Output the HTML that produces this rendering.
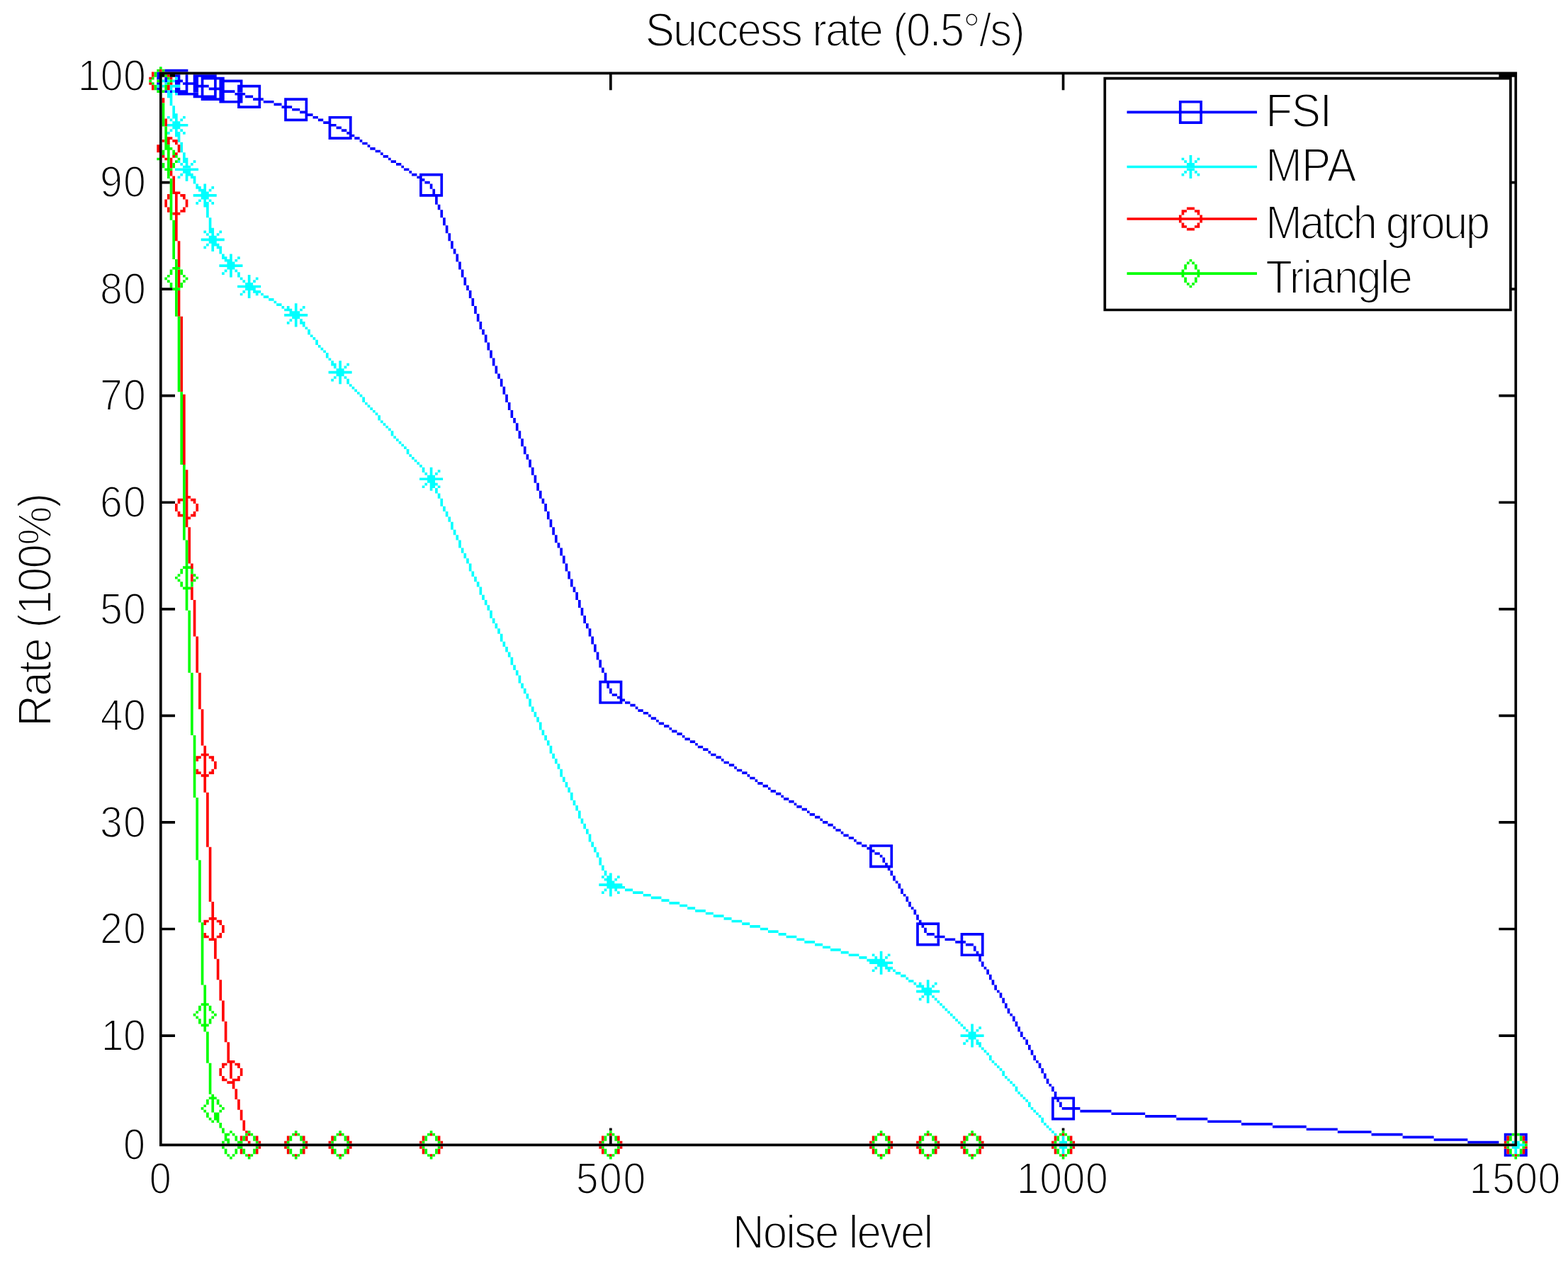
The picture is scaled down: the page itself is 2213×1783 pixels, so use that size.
<!DOCTYPE html>
<html lang="en">
<head>
<meta charset="utf-8">
<title>Success rate (0.5°/s)</title>
<style>
html,body{margin:0;padding:0;background:#fff;}
body{width:2213px;height:1783px;overflow:hidden;}
svg{display:block;}
text{white-space:pre;}
</style>
</head>
<body>
<svg xmlns="http://www.w3.org/2000/svg" width="2213" height="1783" viewBox="0 0 2213 1783">
<rect width="2213" height="1783" fill="#fff"/>
<path class="fsi" fill="#0000ff" d="M221.33 101.5h3.67v11.02h-3.67zM221.33 116.19h3.67v3.67h-3.67zM221.33 123.53h3.67v3.67h-3.67zM232.34 108.84h3.67v7.34h-3.67zM232.34 127.21h3.67v3.67h-3.67zM232.34 97.83h33.04v3.67h-33.04zM239.68 127.21h3.67v3.67h-3.67zM247.02 105.17h7.34v3.67h-7.34zM247.02 116.19h7.34v3.67h-7.34zM247.02 123.53h7.34v3.67h-7.34zM247.02 112.52h11.01v3.67h-11.01zM247.02 127.21h18.35v3.67h-18.35zM250.69 108.84h3.67v3.67h-3.67zM250.69 130.88h29.37v3.67h-29.37zM258.04 116.19h22.02v3.67h-22.02zM261.71 105.17h3.67v11.02h-3.67zM261.71 119.86h3.67v7.34h-3.67zM272.72 108.84h7.34v7.34h-7.34zM272.72 123.53h7.34v7.34h-7.34zM272.72 119.86h22.02v3.67h-22.02zM272.72 105.17h33.04v3.67h-33.04zM272.72 134.55h33.04v3.67h-33.04zM283.73 112.52h3.67v7.34h-3.67zM283.73 123.53h3.67v11.02h-3.67zM283.73 108.84h33.04v3.67h-33.04zM283.73 138.22h33.04v3.67h-33.04zM294.74 123.53h22.02v3.67h-22.02zM302.08 112.52h3.67v11.02h-3.67zM302.08 127.21h3.67v7.34h-3.67zM309.43 116.19h7.34v7.34h-7.34zM309.43 130.88h7.34v7.34h-7.34zM309.43 127.21h22.02v3.67h-22.02zM309.43 112.52h33.04v3.67h-33.04zM309.43 141.9h33.04v3.67h-33.04zM331.45 130.88h14.68v3.67h-14.68zM335.12 145.57h3.67v3.67h-3.67zM335.12 123.53h7.34v7.34h-7.34zM335.12 134.55h7.34v7.34h-7.34zM335.12 119.86h33.04v3.67h-33.04zM335.12 149.24h33.04v3.67h-33.04zM338.79 116.19h3.67v3.67h-3.67zM346.13 134.55h11.01v3.67h-11.01zM357.15 138.22h14.68v3.67h-14.68zM364.49 123.53h3.67v14.69h-3.67zM364.49 141.9h3.67v7.34h-3.67zM371.83 141.9h14.68v3.67h-14.68zM386.51 145.57h11.01v3.67h-11.01zM397.52 149.24h14.68v3.67h-14.68zM401.19 141.9h3.67v7.34h-3.67zM401.19 152.91h3.67v14.69h-3.67zM401.19 138.22h33.04v3.67h-33.04zM401.19 167.6h33.04v3.67h-33.04zM412.21 152.91h11.01v3.67h-11.01zM423.22 156.58h11.01v3.67h-11.01zM430.56 141.9h3.67v14.69h-3.67zM430.56 163.93h3.67v3.67h-3.67zM430.56 160.26h11.01v3.67h-11.01zM441.57 163.93h7.34v3.67h-7.34zM448.91 167.6h7.34v3.67h-7.34zM456.25 171.27h11.01v3.67h-11.01zM463.6 167.6h3.67v3.67h-3.67zM463.6 178.62h3.67v14.69h-3.67zM463.6 174.95h11.01v3.67h-11.01zM463.6 163.93h33.04v3.67h-33.04zM463.6 193.31h33.04v3.67h-33.04zM474.61 178.62h7.34v3.67h-7.34zM481.95 182.29h7.34v3.67h-7.34zM489.29 185.96h7.34v3.67h-7.34zM492.96 167.6h3.67v18.36h-3.67zM492.96 189.64h7.34v3.67h-7.34zM500.3 193.31h7.34v3.67h-7.34zM507.64 196.98h3.67v3.67h-3.67zM511.31 200.65h7.34v3.67h-7.34zM518.66 204.32h3.67v3.67h-3.67zM522.33 208h7.34v3.67h-7.34zM529.67 211.67h7.34v3.67h-7.34zM537.01 215.34h3.67v3.67h-3.67zM540.68 219.01h7.34v3.67h-7.34zM548.02 222.69h3.67v3.67h-3.67zM551.69 226.36h7.34v3.67h-7.34zM559.03 230.03h7.34v3.67h-7.34zM566.38 233.7h3.67v3.67h-3.67zM570.05 237.38h7.34v3.67h-7.34zM577.39 241.05h3.67v3.67h-3.67zM581.06 244.72h7.34v3.67h-7.34zM588.4 248.39h7.34v3.67h-7.34zM592.07 255.74h3.67v18.36h-3.67zM592.07 252.06h7.34v3.67h-7.34zM592.07 244.72h33.04v3.67h-33.04zM592.07 274.1h33.04v3.67h-33.04zM599.41 255.74h7.34v3.67h-7.34zM606.75 259.41h3.67v7.34h-3.67zM610.42 266.75h3.67v7.34h-3.67zM614.09 277.77h3.67v11.02h-3.67zM617.76 288.79h3.67v7.34h-3.67zM621.44 248.39h3.67v25.71h-3.67zM621.44 296.13h3.67v11.02h-3.67zM625.11 307.15h3.67v11.02h-3.67zM628.78 318.17h3.67v11.02h-3.67zM632.45 329.18h3.67v11.02h-3.67zM636.12 340.2h3.67v11.02h-3.67zM639.79 351.22h3.67v7.34h-3.67zM643.46 358.56h3.67v11.02h-3.67zM647.13 369.58h3.67v11.02h-3.67zM650.8 380.59h3.67v11.02h-3.67zM654.47 391.61h3.67v11.02h-3.67zM658.14 402.63h3.67v7.34h-3.67zM661.81 409.97h3.67v11.02h-3.67zM665.48 420.99h3.67v11.02h-3.67zM669.15 432.01h3.67v11.02h-3.67zM672.83 443.02h3.67v11.02h-3.67zM676.5 454.04h3.67v11.02h-3.67zM680.17 465.06h3.67v7.34h-3.67zM683.84 472.4h3.67v11.02h-3.67zM687.51 483.42h3.67v11.02h-3.67zM691.18 494.44h3.67v11.02h-3.67zM694.85 505.45h3.67v11.02h-3.67zM698.52 516.47h3.67v11.02h-3.67zM702.19 527.49h3.67v7.34h-3.67zM705.86 534.83h3.67v11.02h-3.67zM709.53 545.85h3.67v11.02h-3.67zM713.2 556.87h3.67v11.02h-3.67zM716.87 567.88h3.67v11.02h-3.67zM720.54 578.9h3.67v11.02h-3.67zM724.22 589.92h3.67v7.34h-3.67zM727.89 597.26h3.67v11.02h-3.67zM731.56 608.28h3.67v11.02h-3.67zM735.23 619.29h3.67v11.02h-3.67zM738.9 630.31h3.67v11.02h-3.67zM742.57 641.33h3.67v7.34h-3.67zM746.24 648.67h3.67v11.02h-3.67zM749.91 659.69h3.67v11.02h-3.67zM753.58 670.71h3.67v11.02h-3.67zM757.25 681.72h3.67v11.02h-3.67zM760.92 692.74h3.67v11.02h-3.67zM764.59 703.76h3.67v7.34h-3.67zM768.26 711.1h3.67v11.02h-3.67zM771.93 722.12h3.67v11.02h-3.67zM775.61 733.14h3.67v11.02h-3.67zM779.28 744.15h3.67v11.02h-3.67zM782.95 755.17h3.67v11.02h-3.67zM786.62 766.19h3.67v7.34h-3.67zM790.29 773.53h3.67v11.02h-3.67zM793.96 784.55h3.67v11.02h-3.67zM797.63 795.56h3.67v11.02h-3.67zM801.3 806.58h3.67v11.02h-3.67zM804.97 817.6h3.67v11.02h-3.67zM808.64 828.62h3.67v7.34h-3.67zM812.31 835.96h3.67v11.02h-3.67zM815.98 846.98h3.67v11.02h-3.67zM819.65 857.99h3.67v11.02h-3.67zM823.32 869.01h3.67v11.02h-3.67zM826.99 880.03h3.67v7.34h-3.67zM830.67 887.37h3.67v11.02h-3.67zM834.34 898.39h3.67v11.02h-3.67zM838.01 909.41h3.67v11.02h-3.67zM841.68 920.42h3.67v11.02h-3.67zM845.35 931.44h3.67v11.02h-3.67zM845.35 964.49h3.67v25.71h-3.67zM845.35 960.82h33.04v3.67h-33.04zM845.35 990.2h33.04v3.67h-33.04zM849.02 942.46h3.67v7.34h-3.67zM852.69 949.8h3.67v11.02h-3.67zM856.36 964.49h3.67v7.34h-3.67zM860.03 971.84h3.67v7.34h-3.67zM863.7 979.18h7.34v3.67h-7.34zM871.04 982.85h7.34v3.67h-7.34zM874.71 964.49h3.67v18.36h-3.67zM874.71 986.52h7.34v3.67h-7.34zM882.06 990.2h7.34v3.67h-7.34zM889.4 993.87h7.34v3.67h-7.34zM896.74 997.54h3.67v3.67h-3.67zM900.41 1001.21h7.34v3.67h-7.34zM907.75 1004.89h7.34v3.67h-7.34zM915.09 1008.56h3.67v3.67h-3.67zM918.76 1012.23h7.34v3.67h-7.34zM926.1 1015.9h3.67v3.67h-3.67zM929.77 1019.57h7.34v3.67h-7.34zM937.12 1023.25h7.34v3.67h-7.34zM944.46 1026.92h3.67v3.67h-3.67zM948.13 1030.59h7.34v3.67h-7.34zM955.47 1034.26h7.34v3.67h-7.34zM962.81 1037.94h3.67v3.67h-3.67zM966.48 1041.61h7.34v3.67h-7.34zM973.82 1045.28h7.34v3.67h-7.34zM981.16 1048.95h3.67v3.67h-3.67zM984.83 1052.63h7.34v3.67h-7.34zM992.18 1056.3h7.34v3.67h-7.34zM999.52 1059.97h3.67v3.67h-3.67zM1003.19 1063.64h7.34v3.67h-7.34zM1010.53 1067.31h7.34v3.67h-7.34zM1017.87 1070.99h3.67v3.67h-3.67zM1021.54 1074.66h7.34v3.67h-7.34zM1028.88 1078.33h7.34v3.67h-7.34zM1036.22 1082h3.67v3.67h-3.67zM1039.9 1085.68h7.34v3.67h-7.34zM1047.24 1089.35h7.34v3.67h-7.34zM1054.58 1093.02h3.67v3.67h-3.67zM1058.25 1096.69h7.34v3.67h-7.34zM1065.59 1100.37h3.67v3.67h-3.67zM1069.26 1104.04h7.34v3.67h-7.34zM1076.6 1107.71h7.34v3.67h-7.34zM1083.94 1111.38h3.67v3.67h-3.67zM1087.61 1115.05h7.34v3.67h-7.34zM1094.96 1118.73h7.34v3.67h-7.34zM1102.3 1122.4h3.67v3.67h-3.67zM1105.97 1126.07h7.34v3.67h-7.34zM1113.31 1129.74h7.34v3.67h-7.34zM1120.65 1133.42h3.67v3.67h-3.67zM1124.32 1137.09h7.34v3.67h-7.34zM1131.66 1140.76h7.34v3.67h-7.34zM1139 1144.43h3.67v3.67h-3.67zM1142.68 1148.11h7.34v3.67h-7.34zM1150.02 1151.78h7.34v3.67h-7.34zM1157.36 1155.45h3.67v3.67h-3.67zM1161.03 1159.12h7.34v3.67h-7.34zM1168.37 1162.79h7.34v3.67h-7.34zM1175.71 1166.47h3.67v3.67h-3.67zM1179.38 1170.14h7.34v3.67h-7.34zM1186.72 1173.81h3.67v3.67h-3.67zM1190.39 1177.48h7.34v3.67h-7.34zM1197.74 1181.16h7.34v3.67h-7.34zM1205.08 1184.83h3.67v3.67h-3.67zM1208.75 1188.5h7.34v3.67h-7.34zM1216.09 1192.17h7.34v3.67h-7.34zM1223.43 1195.85h7.34v3.67h-7.34zM1227.1 1203.19h3.67v18.36h-3.67zM1227.1 1199.52h7.34v3.67h-7.34zM1227.1 1192.17h33.04v3.67h-33.04zM1227.1 1221.55h33.04v3.67h-33.04zM1234.44 1203.19h7.34v3.67h-7.34zM1241.78 1206.86h3.67v3.67h-3.67zM1245.45 1210.53h3.67v7.34h-3.67zM1249.13 1217.88h3.67v3.67h-3.67zM1252.8 1225.22h3.67v3.67h-3.67zM1256.47 1195.85h3.67v25.71h-3.67zM1256.47 1228.9h3.67v7.34h-3.67zM1260.14 1236.24h3.67v7.34h-3.67zM1263.81 1243.59h3.67v3.67h-3.67zM1267.48 1247.26h3.67v7.34h-3.67zM1271.15 1254.6h3.67v7.34h-3.67zM1274.82 1261.95h3.67v3.67h-3.67zM1278.49 1265.62h3.67v7.34h-3.67zM1282.16 1272.96h3.67v7.34h-3.67zM1285.83 1280.31h3.67v3.67h-3.67zM1289.5 1283.98h3.67v7.34h-3.67zM1293.17 1291.33h3.67v7.34h-3.67zM1293.17 1306.01h3.67v25.71h-3.67zM1293.17 1302.34h33.04v3.67h-33.04zM1293.17 1331.72h33.04v3.67h-33.04zM1296.84 1298.67h3.67v3.67h-3.67zM1300.52 1306.01h3.67v3.67h-3.67zM1304.19 1309.69h3.67v7.34h-3.67zM1307.86 1317.03h11.01v3.67h-11.01zM1318.87 1320.7h14.68v3.67h-14.68zM1322.54 1306.01h3.67v14.69h-3.67zM1322.54 1324.38h3.67v7.34h-3.67zM1333.55 1324.38h14.68v3.67h-14.68zM1348.23 1328.05h14.68v3.67h-14.68zM1355.58 1320.7h3.67v7.34h-3.67zM1355.58 1331.72h3.67v14.69h-3.67zM1355.58 1317.03h33.04v3.67h-33.04zM1355.58 1346.41h33.04v3.67h-33.04zM1362.92 1331.72h11.01v3.67h-11.01zM1373.93 1335.39h3.67v7.34h-3.67zM1377.6 1342.74h3.67v3.67h-3.67zM1381.27 1350.08h3.67v7.34h-3.67zM1384.94 1320.7h3.67v25.71h-3.67zM1384.94 1357.43h3.67v7.34h-3.67zM1388.61 1364.77h3.67v3.67h-3.67zM1392.28 1368.44h3.67v7.34h-3.67zM1395.95 1375.79h3.67v7.34h-3.67zM1399.62 1383.13h3.67v7.34h-3.67zM1403.29 1390.48h3.67v7.34h-3.67zM1406.97 1397.82h3.67v3.67h-3.67zM1410.64 1401.49h3.67v7.34h-3.67zM1414.31 1408.84h3.67v7.34h-3.67zM1417.98 1416.18h3.67v7.34h-3.67zM1421.65 1423.53h3.67v7.34h-3.67zM1425.32 1430.87h3.67v3.67h-3.67zM1428.99 1434.54h3.67v7.34h-3.67zM1432.66 1441.89h3.67v7.34h-3.67zM1436.33 1449.23h3.67v7.34h-3.67zM1440 1456.58h3.67v7.34h-3.67zM1443.67 1463.92h3.67v3.67h-3.67zM1447.34 1467.6h3.67v7.34h-3.67zM1451.01 1474.94h3.67v7.34h-3.67zM1454.68 1482.28h3.67v7.34h-3.67zM1458.36 1489.63h3.67v7.34h-3.67zM1462.03 1496.97h3.67v3.67h-3.67zM1465.7 1500.65h3.67v7.34h-3.67zM1469.37 1507.99h3.67v7.34h-3.67zM1473.04 1515.34h3.67v7.34h-3.67zM1476.71 1522.68h3.67v7.34h-3.67zM1480.38 1530.02h3.67v3.67h-3.67zM1484.05 1533.7h3.67v7.34h-3.67zM1484.05 1552.06h3.67v25.71h-3.67zM1484.05 1548.39h33.04v3.67h-33.04zM1484.05 1577.76h33.04v3.67h-33.04zM1487.72 1541.04h3.67v7.34h-3.67zM1491.39 1552.06h3.67v3.67h-3.67zM1495.06 1555.73h3.67v7.34h-3.67zM1498.73 1563.08h25.69v3.67h-25.69zM1513.42 1552.06h3.67v11.02h-3.67zM1513.42 1566.75h3.67v11.02h-3.67zM1524.43 1566.75h44.05v3.67h-44.05zM1568.48 1570.42h47.72v3.67h-47.72zM1590.5 156.58h183.53v3.67h-183.53zM1616.2 1574.09h44.05v3.67h-44.05zM1660.24 1577.76h44.05v3.67h-44.05zM1663.91 145.57h3.67v11.02h-3.67zM1663.91 160.26h3.67v11.02h-3.67zM1663.91 141.9h33.04v3.67h-33.04zM1663.91 171.27h33.04v3.67h-33.04zM1693.28 145.57h3.67v11.02h-3.67zM1693.28 160.26h3.67v11.02h-3.67zM1704.29 1581.44h47.72v3.67h-47.72zM1752.01 1585.11h44.05v3.67h-44.05zM1796.06 1588.78h47.72v3.67h-47.72zM1843.78 1592.45h44.05v3.67h-44.05zM1887.83 1596.13h47.72v3.67h-47.72zM1935.55 1599.8h44.05v3.67h-44.05zM1979.59 1603.47h44.05v3.67h-44.05zM2023.64 1607.14h47.72v3.67h-47.72zM2071.36 1610.82h44.05v3.67h-44.05zM2122.75 1603.47h3.67v7.34h-3.67zM2122.75 1621.83h3.67v7.34h-3.67zM2122.75 1599.8h11.01v3.67h-11.01zM2122.75 1629.18h11.01v3.67h-11.01zM2144.78 1599.8h11.01v3.67h-11.01zM2144.78 1629.18h11.01v3.67h-11.01zM2152.12 1603.47h3.67v7.34h-3.67zM2152.12 1621.83h3.67v7.34h-3.67z"/>
<path class="mpa" fill="#00ffff" d="M221.33 119.86h3.67v3.67h-3.67zM228.67 112.52h3.67v3.67h-3.67zM228.67 119.86h3.67v3.67h-3.67zM232.34 116.19h3.67v3.67h-3.67zM236.01 112.52h3.67v3.67h-3.67zM236.01 127.21h3.67v3.67h-3.67zM236.01 163.93h3.67v3.67h-3.67zM236.01 185.96h3.67v3.67h-3.67zM236.01 130.88h7.34v7.34h-7.34zM236.01 174.95h29.37v3.67h-29.37zM239.68 123.53h3.67v3.67h-3.67zM239.68 138.22h3.67v11.02h-3.67zM239.68 167.6h3.67v3.67h-3.67zM239.68 182.29h3.67v3.67h-3.67zM239.68 119.86h14.68v3.67h-14.68zM243.35 112.52h3.67v3.67h-3.67zM243.35 127.21h3.67v3.67h-3.67zM243.35 149.24h3.67v11.02h-3.67zM243.35 160.26h7.34v7.34h-7.34zM243.35 171.27h11.01v3.67h-11.01zM243.35 178.62h11.01v3.67h-11.01zM247.02 108.84h3.67v3.67h-3.67zM247.02 130.88h3.67v3.67h-3.67zM247.02 167.6h3.67v3.67h-3.67zM247.02 182.29h3.67v3.67h-3.67zM247.02 185.96h7.34v7.34h-7.34zM247.02 237.38h33.04v3.67h-33.04zM250.69 193.31h3.67v7.34h-3.67zM250.69 226.36h3.67v3.67h-3.67zM250.69 248.39h3.67v3.67h-3.67zM254.37 167.6h3.67v3.67h-3.67zM254.37 182.29h3.67v3.67h-3.67zM254.37 200.65h3.67v14.69h-3.67zM254.37 230.03h3.67v3.67h-3.67zM254.37 244.72h3.67v3.67h-3.67zM258.04 163.93h3.67v3.67h-3.67zM258.04 185.96h3.67v3.67h-3.67zM258.04 215.34h3.67v7.34h-3.67zM258.04 222.69h7.34v7.34h-7.34zM258.04 233.7h11.01v3.67h-11.01zM258.04 241.05h11.01v3.67h-11.01zM261.71 230.03h3.67v3.67h-3.67zM261.71 248.39h3.67v7.34h-3.67zM261.71 244.72h11.01v3.67h-11.01zM269.05 230.03h3.67v3.67h-3.67zM269.05 248.39h7.34v3.67h-7.34zM272.72 226.36h3.67v3.67h-3.67zM272.72 252.06h3.67v7.34h-3.67zM272.72 274.1h33.04v3.67h-33.04zM276.39 259.41h3.67v3.67h-3.67zM276.39 285.12h3.67v3.67h-3.67zM276.39 263.08h7.34v3.67h-7.34zM280.06 281.44h3.67v3.67h-3.67zM280.06 266.75h11.01v3.67h-11.01zM283.73 270.43h11.01v3.67h-11.01zM283.73 277.77h11.01v3.67h-11.01zM283.73 336.53h33.04v3.67h-33.04zM287.4 259.41h3.67v7.34h-3.67zM287.4 281.44h3.67v3.67h-3.67zM287.4 325.51h3.67v3.67h-3.67zM287.4 347.54h3.67v3.67h-3.67zM287.4 285.12h7.34v7.34h-7.34zM291.07 292.46h3.67v14.69h-3.67zM291.07 329.18h3.67v3.67h-3.67zM291.07 343.87h3.67v3.67h-3.67zM294.74 266.75h3.67v3.67h-3.67zM294.74 281.44h3.67v3.67h-3.67zM294.74 307.15h3.67v14.69h-3.67zM294.74 321.84h7.34v7.34h-7.34zM294.74 332.85h11.01v3.67h-11.01zM294.74 340.2h11.01v3.67h-11.01zM298.41 263.08h3.67v3.67h-3.67zM298.41 285.12h3.67v3.67h-3.67zM298.41 329.18h3.67v3.67h-3.67zM298.41 347.54h3.67v7.34h-3.67zM298.41 343.87h11.01v3.67h-11.01zM305.76 329.18h3.67v3.67h-3.67zM305.76 347.54h7.34v3.67h-7.34zM309.43 325.51h3.67v3.67h-3.67zM309.43 351.22h3.67v7.34h-3.67zM309.43 373.25h33.04v3.67h-33.04zM313.1 358.56h3.67v3.67h-3.67zM313.1 384.27h3.67v3.67h-3.67zM313.1 362.23h7.34v3.67h-7.34zM316.77 380.59h3.67v3.67h-3.67zM316.77 365.91h11.01v3.67h-11.01zM320.44 369.58h11.01v3.67h-11.01zM320.44 376.92h11.01v3.67h-11.01zM324.11 358.56h3.67v7.34h-3.67zM324.11 380.59h3.67v11.02h-3.67zM331.45 365.91h3.67v3.67h-3.67zM331.45 380.59h3.67v3.67h-3.67zM335.12 362.23h3.67v3.67h-3.67zM335.12 384.27h3.67v7.34h-3.67zM335.12 402.63h33.04v3.67h-33.04zM338.79 391.61h3.67v3.67h-3.67zM338.79 413.65h3.67v3.67h-3.67zM342.46 395.28h3.67v3.67h-3.67zM342.46 409.97h3.67v3.67h-3.67zM346.13 398.96h11.01v3.67h-11.01zM346.13 406.3h14.68v3.67h-14.68zM349.8 387.94h3.67v11.02h-3.67zM349.8 409.97h3.67v11.02h-3.67zM357.15 395.28h3.67v3.67h-3.67zM357.15 409.97h11.01v3.67h-11.01zM360.82 391.61h3.67v3.67h-3.67zM360.82 413.65h3.67v3.67h-3.67zM368.16 413.65h3.67v3.67h-3.67zM371.83 417.32h7.34v3.67h-7.34zM379.17 420.99h7.34v3.67h-7.34zM386.51 424.66h3.67v3.67h-3.67zM390.18 428.33h7.34v3.67h-7.34zM397.52 432.01h3.67v3.67h-3.67zM401.19 435.68h11.01v3.67h-11.01zM401.19 443.02h33.04v3.67h-33.04zM404.86 432.01h3.67v3.67h-3.67zM404.86 454.04h3.67v3.67h-3.67zM408.53 450.37h3.67v3.67h-3.67zM408.53 439.35h14.68v3.67h-14.68zM412.21 446.7h11.01v3.67h-11.01zM415.88 428.33h3.67v11.02h-3.67zM415.88 450.37h3.67v11.02h-3.67zM423.22 435.68h3.67v3.67h-3.67zM423.22 450.37h3.67v3.67h-3.67zM423.22 454.04h7.34v3.67h-7.34zM426.89 432.01h3.67v3.67h-3.67zM426.89 457.71h3.67v3.67h-3.67zM430.56 461.39h3.67v3.67h-3.67zM434.23 465.06h3.67v7.34h-3.67zM437.9 472.4h3.67v3.67h-3.67zM441.57 476.07h3.67v3.67h-3.67zM445.24 479.75h3.67v7.34h-3.67zM448.91 487.09h3.67v3.67h-3.67zM452.58 490.76h3.67v3.67h-3.67zM456.25 494.44h3.67v3.67h-3.67zM459.92 498.11h3.67v7.34h-3.67zM463.6 505.45h3.67v3.67h-3.67zM463.6 523.81h33.04v3.67h-33.04zM467.27 509.13h3.67v3.67h-3.67zM467.27 534.83h3.67v3.67h-3.67zM467.27 512.8h7.34v3.67h-7.34zM470.94 516.47h3.67v3.67h-3.67zM470.94 531.16h3.67v3.67h-3.67zM474.61 520.14h11.01v3.67h-11.01zM474.61 527.49h11.01v3.67h-11.01zM478.28 509.13h3.67v11.02h-3.67zM478.28 531.16h3.67v11.02h-3.67zM485.62 516.47h3.67v3.67h-3.67zM485.62 531.16h3.67v3.67h-3.67zM489.29 512.8h3.67v3.67h-3.67zM489.29 534.83h3.67v7.34h-3.67zM492.96 542.18h3.67v3.67h-3.67zM496.63 545.85h3.67v3.67h-3.67zM500.3 549.52h3.67v3.67h-3.67zM503.97 553.19h3.67v3.67h-3.67zM507.64 556.87h3.67v3.67h-3.67zM511.31 560.54h3.67v7.34h-3.67zM514.99 567.88h3.67v3.67h-3.67zM518.66 571.55h3.67v3.67h-3.67zM522.33 575.23h3.67v3.67h-3.67zM526 578.9h3.67v3.67h-3.67zM529.67 582.57h3.67v3.67h-3.67zM533.34 586.24h3.67v7.34h-3.67zM537.01 593.59h3.67v3.67h-3.67zM540.68 597.26h3.67v3.67h-3.67zM544.35 600.93h3.67v3.67h-3.67zM548.02 604.61h3.67v3.67h-3.67zM551.69 608.28h3.67v7.34h-3.67zM555.36 615.62h3.67v3.67h-3.67zM559.03 619.29h3.67v3.67h-3.67zM562.7 622.97h3.67v3.67h-3.67zM566.38 626.64h3.67v3.67h-3.67zM570.05 630.31h3.67v3.67h-3.67zM573.72 633.98h3.67v7.34h-3.67zM577.39 641.33h3.67v3.67h-3.67zM581.06 645h3.67v3.67h-3.67zM584.73 648.67h3.67v3.67h-3.67zM588.4 652.35h3.67v3.67h-3.67zM592.07 656.02h3.67v3.67h-3.67zM592.07 674.38h33.04v3.67h-33.04zM595.74 659.69h3.67v7.34h-3.67zM595.74 685.4h3.67v3.67h-3.67zM599.41 667.03h3.67v3.67h-3.67zM599.41 681.72h3.67v3.67h-3.67zM603.08 670.71h11.01v3.67h-11.01zM603.08 678.05h11.01v3.67h-11.01zM606.75 659.69h3.67v11.02h-3.67zM606.75 689.07h3.67v3.67h-3.67zM606.75 685.4h7.34v3.67h-7.34zM606.75 681.72h11.01v3.67h-11.01zM614.09 667.03h3.67v3.67h-3.67zM614.09 689.07h3.67v7.34h-3.67zM617.76 663.36h3.67v3.67h-3.67zM617.76 685.4h3.67v3.67h-3.67zM617.76 696.41h3.67v7.34h-3.67zM621.44 703.76h3.67v11.02h-3.67zM625.11 714.77h3.67v7.34h-3.67zM628.78 722.12h3.67v7.34h-3.67zM632.45 729.46h3.67v7.34h-3.67zM636.12 736.81h3.67v11.02h-3.67zM639.79 747.82h3.67v7.34h-3.67zM643.46 755.17h3.67v7.34h-3.67zM647.13 762.51h3.67v11.02h-3.67zM650.8 773.53h3.67v7.34h-3.67zM654.47 780.88h3.67v7.34h-3.67zM658.14 788.22h3.67v7.34h-3.67zM661.81 795.56h3.67v11.02h-3.67zM665.48 806.58h3.67v7.34h-3.67zM669.15 813.93h3.67v7.34h-3.67zM672.83 821.27h3.67v7.34h-3.67zM676.5 828.62h3.67v11.02h-3.67zM680.17 839.63h3.67v7.34h-3.67zM683.84 846.98h3.67v7.34h-3.67zM687.51 854.32h3.67v7.34h-3.67zM691.18 861.67h3.67v11.02h-3.67zM694.85 872.68h3.67v7.34h-3.67zM698.52 880.03h3.67v7.34h-3.67zM702.19 887.37h3.67v7.34h-3.67zM705.86 894.72h3.67v11.02h-3.67zM709.53 905.73h3.67v7.34h-3.67zM713.2 913.08h3.67v7.34h-3.67zM716.87 920.42h3.67v7.34h-3.67zM720.54 927.77h3.67v11.02h-3.67zM724.22 938.78h3.67v7.34h-3.67zM727.89 946.13h3.67v7.34h-3.67zM731.56 953.47h3.67v11.02h-3.67zM735.23 964.49h3.67v7.34h-3.67zM738.9 971.84h3.67v7.34h-3.67zM742.57 979.18h3.67v7.34h-3.67zM746.24 986.52h3.67v11.02h-3.67zM749.91 997.54h3.67v7.34h-3.67zM753.58 1004.89h3.67v7.34h-3.67zM757.25 1012.23h3.67v7.34h-3.67zM760.92 1019.57h3.67v11.02h-3.67zM764.59 1030.59h3.67v7.34h-3.67zM768.26 1037.94h3.67v7.34h-3.67zM771.93 1045.28h3.67v7.34h-3.67zM775.61 1052.63h3.67v11.02h-3.67zM779.28 1063.64h3.67v7.34h-3.67zM782.95 1070.99h3.67v7.34h-3.67zM786.62 1078.33h3.67v7.34h-3.67zM790.29 1085.68h3.67v11.02h-3.67zM793.96 1096.69h3.67v7.34h-3.67zM797.63 1104.04h3.67v7.34h-3.67zM801.3 1111.38h3.67v7.34h-3.67zM804.97 1118.73h3.67v11.02h-3.67zM808.64 1129.74h3.67v7.34h-3.67zM812.31 1137.09h3.67v7.34h-3.67zM815.98 1144.43h3.67v11.02h-3.67zM819.65 1155.45h3.67v7.34h-3.67zM823.32 1162.79h3.67v7.34h-3.67zM826.99 1170.14h3.67v7.34h-3.67zM830.67 1177.48h3.67v11.02h-3.67zM834.34 1188.5h3.67v7.34h-3.67zM838.01 1195.85h3.67v7.34h-3.67zM841.68 1203.19h3.67v7.34h-3.67zM845.35 1210.53h3.67v11.02h-3.67zM845.35 1247.26h33.04v3.67h-33.04zM849.02 1221.55h3.67v7.34h-3.67zM849.02 1236.24h3.67v3.67h-3.67zM849.02 1258.27h3.67v3.67h-3.67zM852.69 1228.9h3.67v7.34h-3.67zM852.69 1254.6h3.67v3.67h-3.67zM852.69 1239.91h11.01v3.67h-11.01zM856.36 1236.24h7.34v3.67h-7.34zM856.36 1243.59h11.01v3.67h-11.01zM856.36 1250.93h25.69v3.67h-25.69zM860.03 1232.57h3.67v3.67h-3.67zM860.03 1254.6h3.67v11.02h-3.67zM867.37 1239.91h3.67v3.67h-3.67zM867.37 1254.6h3.67v3.67h-3.67zM871.04 1236.24h3.67v3.67h-3.67zM871.04 1258.27h3.67v3.67h-3.67zM882.06 1254.6h11.01v3.67h-11.01zM893.07 1258.27h14.68v3.67h-14.68zM907.75 1261.95h11.01v3.67h-11.01zM918.76 1265.62h14.68v3.67h-14.68zM933.45 1269.29h11.01v3.67h-11.01zM944.46 1272.96h14.68v3.67h-14.68zM959.14 1276.64h11.01v3.67h-11.01zM970.15 1280.31h11.01v3.67h-11.01zM981.16 1283.98h14.68v3.67h-14.68zM995.85 1287.65h11.01v3.67h-11.01zM1006.86 1291.33h14.68v3.67h-14.68zM1021.54 1295h11.01v3.67h-11.01zM1032.55 1298.67h14.68v3.67h-14.68zM1047.24 1302.34h11.01v3.67h-11.01zM1058.25 1306.01h14.68v3.67h-14.68zM1072.93 1309.69h11.01v3.67h-11.01zM1083.94 1313.36h14.68v3.67h-14.68zM1098.63 1317.03h11.01v3.67h-11.01zM1109.64 1320.7h14.68v3.67h-14.68zM1124.32 1324.38h11.01v3.67h-11.01zM1135.33 1328.05h14.68v3.67h-14.68zM1150.02 1331.72h11.01v3.67h-11.01zM1161.03 1335.39h11.01v3.67h-11.01zM1172.04 1339.07h14.68v3.67h-14.68zM1186.72 1342.74h11.01v3.67h-11.01zM1197.74 1346.41h14.68v3.67h-14.68zM1212.42 1350.08h11.01v3.67h-11.01zM1223.43 1353.75h25.69v3.67h-25.69zM1227.1 1357.43h33.04v3.67h-33.04zM1230.77 1346.41h3.67v3.67h-3.67zM1230.77 1368.44h3.67v3.67h-3.67zM1234.44 1350.08h3.67v3.67h-3.67zM1234.44 1364.77h3.67v3.67h-3.67zM1238.11 1361.1h14.68v3.67h-14.68zM1241.78 1342.74h3.67v11.02h-3.67zM1241.78 1364.77h3.67v11.02h-3.67zM1249.13 1350.08h3.67v3.67h-3.67zM1249.13 1364.77h11.01v3.67h-11.01zM1252.8 1346.41h3.67v3.67h-3.67zM1252.8 1368.44h3.67v3.67h-3.67zM1260.14 1368.44h3.67v3.67h-3.67zM1263.81 1372.12h7.34v3.67h-7.34zM1271.15 1375.79h7.34v3.67h-7.34zM1278.49 1379.46h3.67v3.67h-3.67zM1282.16 1383.13h7.34v3.67h-7.34zM1289.5 1386.81h3.67v3.67h-3.67zM1293.17 1390.48h11.01v3.67h-11.01zM1293.17 1397.82h33.04v3.67h-33.04zM1296.84 1386.81h3.67v3.67h-3.67zM1296.84 1408.84h3.67v3.67h-3.67zM1300.52 1405.17h3.67v3.67h-3.67zM1300.52 1394.15h14.68v3.67h-14.68zM1304.19 1401.49h11.01v3.67h-11.01zM1307.86 1383.13h3.67v11.02h-3.67zM1307.86 1405.17h3.67v11.02h-3.67zM1315.2 1390.48h3.67v3.67h-3.67zM1315.2 1405.17h3.67v3.67h-3.67zM1318.87 1386.81h3.67v3.67h-3.67zM1318.87 1408.84h3.67v3.67h-3.67zM1322.54 1412.51h3.67v3.67h-3.67zM1326.21 1416.18h3.67v3.67h-3.67zM1329.88 1419.86h3.67v3.67h-3.67zM1333.55 1423.53h3.67v3.67h-3.67zM1337.22 1427.2h3.67v3.67h-3.67zM1340.89 1430.87h3.67v3.67h-3.67zM1344.56 1434.54h3.67v3.67h-3.67zM1348.23 1438.22h3.67v3.67h-3.67zM1351.9 1441.89h3.67v3.67h-3.67zM1355.58 1445.56h3.67v3.67h-3.67zM1355.58 1460.25h33.04v3.67h-33.04zM1359.25 1449.23h3.67v3.67h-3.67zM1359.25 1471.27h3.67v3.67h-3.67zM1362.92 1452.91h3.67v3.67h-3.67zM1362.92 1467.6h3.67v3.67h-3.67zM1366.59 1456.58h11.01v3.67h-11.01zM1366.59 1463.92h11.01v3.67h-11.01zM1370.26 1445.56h3.67v11.02h-3.67zM1370.26 1467.6h3.67v11.02h-3.67zM1377.6 1452.91h3.67v3.67h-3.67zM1377.6 1467.6h3.67v3.67h-3.67zM1377.6 1471.27h7.34v3.67h-7.34zM1381.27 1449.23h3.67v3.67h-3.67zM1381.27 1474.94h3.67v3.67h-3.67zM1384.94 1478.61h3.67v3.67h-3.67zM1388.61 1482.28h3.67v3.67h-3.67zM1392.28 1485.96h3.67v3.67h-3.67zM1395.95 1489.63h3.67v7.34h-3.67zM1399.62 1496.97h3.67v3.67h-3.67zM1403.29 1500.65h3.67v3.67h-3.67zM1406.97 1504.32h3.67v3.67h-3.67zM1410.64 1507.99h3.67v3.67h-3.67zM1414.31 1511.66h3.67v7.34h-3.67zM1417.98 1519.01h3.67v3.67h-3.67zM1421.65 1522.68h3.67v3.67h-3.67zM1425.32 1526.35h3.67v3.67h-3.67zM1428.99 1530.02h3.67v3.67h-3.67zM1432.66 1533.7h3.67v7.34h-3.67zM1436.33 1541.04h3.67v3.67h-3.67zM1440 1544.71h3.67v3.67h-3.67zM1443.67 1548.39h3.67v3.67h-3.67zM1447.34 1552.06h3.67v3.67h-3.67zM1451.01 1555.73h3.67v7.34h-3.67zM1454.68 1563.08h3.67v3.67h-3.67zM1458.36 1566.75h3.67v3.67h-3.67zM1462.03 1570.42h3.67v3.67h-3.67zM1465.7 1574.09h3.67v3.67h-3.67zM1469.37 1577.76h3.67v7.34h-3.67zM1473.04 1585.11h3.67v3.67h-3.67zM1476.71 1588.78h3.67v3.67h-3.67zM1480.38 1592.45h3.67v3.67h-3.67zM1484.05 1596.13h3.67v3.67h-3.67zM1487.72 1599.8h3.67v3.67h-3.67zM1495.06 1610.82h11.01v3.67h-11.01zM1495.06 1618.16h11.01v3.67h-11.01zM1498.73 1603.47h3.67v7.34h-3.67zM1498.73 1621.83h3.67v7.34h-3.67zM1590.5 233.7h183.53v3.67h-183.53zM1667.59 222.69h3.67v3.67h-3.67zM1667.59 244.72h3.67v3.67h-3.67zM1671.26 226.36h3.67v3.67h-3.67zM1671.26 241.05h3.67v3.67h-3.67zM1674.93 230.03h11.01v3.67h-11.01zM1674.93 237.38h11.01v3.67h-11.01zM1678.6 219.01h3.67v11.02h-3.67zM1678.6 241.05h3.67v11.02h-3.67zM1685.94 226.36h3.67v3.67h-3.67zM1685.94 241.05h3.67v3.67h-3.67zM1689.61 222.69h3.67v3.67h-3.67zM1689.61 244.72h3.67v3.67h-3.67zM2133.76 1610.82h3.67v3.67h-3.67zM2133.76 1618.16h11.01v3.67h-11.01zM2137.43 1621.83h3.67v7.34h-3.67zM2141.11 1610.82h3.67v3.67h-3.67zM2141.11 1614.49h11.01v3.67h-11.01z"/>
<path class="match" fill="#ff0000" d="M210.32 108.84h3.67v3.67h-3.67zM210.32 116.19h3.67v3.67h-3.67zM213.99 101.5h3.67v7.34h-3.67zM213.99 119.86h3.67v7.34h-3.67zM221.33 204.32h3.67v11.02h-3.67zM225 97.83h3.67v3.67h-3.67zM228.67 138.22h3.67v7.34h-3.67zM228.67 196.98h3.67v3.67h-3.67zM228.67 219.01h3.67v3.67h-3.67zM232.34 167.6h3.67v11.02h-3.67zM232.34 222.69h3.67v3.67h-3.67zM232.34 281.44h3.67v11.02h-3.67zM236.01 105.17h3.67v3.67h-3.67zM236.01 119.86h3.67v7.34h-3.67zM236.01 196.98h3.67v7.34h-3.67zM236.01 274.1h3.67v7.34h-3.67zM236.01 292.46h3.67v7.34h-3.67zM236.01 193.31h7.34v3.67h-7.34zM239.68 108.84h3.67v3.67h-3.67zM239.68 116.19h3.67v3.67h-3.67zM239.68 222.69h3.67v14.69h-3.67zM239.68 241.05h3.67v7.34h-3.67zM243.35 219.01h3.67v3.67h-3.67zM243.35 248.39h3.67v22.03h-3.67zM243.35 196.98h7.34v3.67h-7.34zM243.35 270.43h11.01v3.67h-11.01zM243.35 299.8h11.01v3.67h-11.01zM247.02 200.65h3.67v3.67h-3.67zM247.02 215.34h3.67v3.67h-3.67zM247.02 274.1h3.67v25.71h-3.67zM247.02 303.48h3.67v36.72h-3.67zM247.02 711.1h3.67v11.02h-3.67zM250.69 204.32h3.67v11.02h-3.67zM250.69 340.2h3.67v36.72h-3.67zM250.69 380.59h3.67v25.71h-3.67zM250.69 409.97h3.67v36.72h-3.67zM250.69 707.43h3.67v3.67h-3.67zM250.69 722.12h3.67v3.67h-3.67zM250.69 703.76h7.34v3.67h-7.34zM250.69 725.79h7.34v3.67h-7.34zM254.37 446.7h3.67v106.5h-3.67zM254.37 274.1h7.34v3.67h-7.34zM254.37 296.13h7.34v3.67h-7.34zM258.04 277.77h3.67v3.67h-3.67zM258.04 292.46h3.67v3.67h-3.67zM258.04 556.87h3.67v99.15h-3.67zM261.71 281.44h3.67v11.02h-3.67zM261.71 663.36h3.67v36.72h-3.67zM261.71 703.76h3.67v25.71h-3.67zM261.71 733.14h3.67v11.02h-3.67zM261.71 700.08h7.34v3.67h-7.34zM261.71 729.46h7.34v3.67h-7.34zM265.38 744.15h3.67v51.41h-3.67zM269.05 795.56h3.67v7.34h-3.67zM269.05 810.25h3.67v11.02h-3.67zM269.05 828.62h3.67v18.36h-3.67zM269.05 703.76h7.34v3.67h-7.34zM269.05 725.79h7.34v3.67h-7.34zM272.72 707.43h3.67v3.67h-3.67zM272.72 722.12h3.67v3.67h-3.67zM272.72 846.98h3.67v51.41h-3.67zM276.39 711.1h3.67v11.02h-3.67zM276.39 898.39h3.67v51.41h-3.67zM276.39 1070.99h3.67v3.67h-3.67zM276.39 1085.68h3.67v3.67h-3.67zM276.39 1067.31h7.34v3.67h-7.34zM276.39 1089.35h7.34v3.67h-7.34zM280.06 949.8h3.67v51.41h-3.67zM283.73 1001.21h3.67v51.41h-3.67zM283.73 1063.64h11.01v3.67h-11.01zM283.73 1093.02h11.01v3.67h-11.01zM287.4 1052.63h3.67v11.02h-3.67zM287.4 1067.31h3.67v25.71h-3.67zM287.4 1096.69h3.67v22.03h-3.67zM287.4 1302.34h3.67v3.67h-3.67zM287.4 1317.03h3.67v3.67h-3.67zM287.4 1298.67h7.34v3.67h-7.34zM287.4 1320.7h7.34v3.67h-7.34zM291.07 1118.73h3.67v77.12h-3.67zM294.74 1195.85h3.67v77.12h-3.67zM294.74 1067.31h7.34v3.67h-7.34zM294.74 1089.35h7.34v3.67h-7.34zM294.74 1295h11.01v3.67h-11.01zM294.74 1324.38h11.01v3.67h-11.01zM298.41 1070.99h3.67v3.67h-3.67zM298.41 1085.68h3.67v3.67h-3.67zM298.41 1272.96h3.67v22.03h-3.67zM298.41 1298.67h3.67v25.71h-3.67zM302.08 1074.66h3.67v11.02h-3.67zM302.08 1328.05h3.67v25.71h-3.67zM305.76 1353.75h3.67v29.38h-3.67zM305.76 1298.67h7.34v3.67h-7.34zM305.76 1320.7h7.34v3.67h-7.34zM309.43 1302.34h3.67v3.67h-3.67zM309.43 1317.03h3.67v3.67h-3.67zM309.43 1383.13h3.67v29.38h-3.67zM309.43 1507.99h3.67v11.02h-3.67zM313.1 1306.01h3.67v11.02h-3.67zM313.1 1412.51h3.67v29.38h-3.67zM313.1 1504.32h3.67v3.67h-3.67zM313.1 1519.01h3.67v3.67h-3.67zM313.1 1500.65h7.34v3.67h-7.34zM313.1 1522.68h7.34v3.67h-7.34zM316.77 1441.89h3.67v29.38h-3.67zM320.44 1471.27h3.67v25.71h-3.67zM320.44 1496.97h11.01v3.67h-11.01zM320.44 1526.35h11.01v3.67h-11.01zM324.11 1500.65h3.67v22.03h-3.67zM327.78 1530.02h3.67v7.34h-3.67zM327.78 1522.68h11.01v3.67h-11.01zM331.45 1537.37h3.67v14.69h-3.67zM331.45 1500.65h7.34v3.67h-7.34zM335.12 1504.32h3.67v3.67h-3.67zM335.12 1519.01h3.67v3.67h-3.67zM335.12 1552.06h3.67v14.69h-3.67zM338.79 1507.99h3.67v11.02h-3.67zM338.79 1566.75h3.67v14.69h-3.67zM338.79 1603.47h3.67v7.34h-3.67zM338.79 1621.83h3.67v7.34h-3.67zM342.46 1581.44h3.67v14.69h-3.67zM346.13 1596.13h3.67v3.67h-3.67zM346.13 1603.47h3.67v7.34h-3.67zM349.8 1599.8h3.67v3.67h-3.67zM349.8 1610.82h3.67v3.67h-3.67zM349.8 1629.18h3.67v3.67h-3.67zM360.82 1603.47h3.67v7.34h-3.67zM360.82 1621.83h3.67v7.34h-3.67zM364.49 1610.82h3.67v3.67h-3.67zM364.49 1618.16h3.67v3.67h-3.67zM401.19 1610.82h3.67v3.67h-3.67zM401.19 1618.16h3.67v3.67h-3.67zM404.86 1603.47h3.67v7.34h-3.67zM404.86 1621.83h3.67v7.34h-3.67zM415.88 1599.8h3.67v3.67h-3.67zM415.88 1629.18h3.67v3.67h-3.67zM426.89 1603.47h3.67v7.34h-3.67zM426.89 1621.83h3.67v7.34h-3.67zM430.56 1610.82h3.67v3.67h-3.67zM430.56 1618.16h3.67v3.67h-3.67zM463.6 1610.82h3.67v3.67h-3.67zM463.6 1618.16h3.67v3.67h-3.67zM467.27 1603.47h3.67v7.34h-3.67zM467.27 1621.83h3.67v7.34h-3.67zM478.28 1599.8h3.67v3.67h-3.67zM478.28 1629.18h3.67v3.67h-3.67zM489.29 1603.47h3.67v7.34h-3.67zM489.29 1621.83h3.67v7.34h-3.67zM492.96 1610.82h3.67v3.67h-3.67zM492.96 1618.16h3.67v3.67h-3.67zM592.07 1610.82h3.67v3.67h-3.67zM592.07 1618.16h3.67v3.67h-3.67zM595.74 1603.47h3.67v7.34h-3.67zM595.74 1621.83h3.67v7.34h-3.67zM606.75 1599.8h3.67v3.67h-3.67zM606.75 1629.18h3.67v3.67h-3.67zM617.76 1603.47h3.67v7.34h-3.67zM617.76 1621.83h3.67v7.34h-3.67zM621.44 1610.82h3.67v3.67h-3.67zM621.44 1618.16h3.67v3.67h-3.67zM845.35 1610.82h3.67v3.67h-3.67zM845.35 1618.16h3.67v3.67h-3.67zM849.02 1603.47h3.67v7.34h-3.67zM849.02 1621.83h3.67v7.34h-3.67zM860.03 1599.8h3.67v3.67h-3.67zM860.03 1629.18h3.67v3.67h-3.67zM871.04 1603.47h3.67v7.34h-3.67zM871.04 1621.83h3.67v7.34h-3.67zM874.71 1610.82h3.67v3.67h-3.67zM874.71 1618.16h3.67v3.67h-3.67zM1227.1 1610.82h3.67v3.67h-3.67zM1227.1 1618.16h3.67v3.67h-3.67zM1230.77 1603.47h3.67v7.34h-3.67zM1230.77 1621.83h3.67v7.34h-3.67zM1241.78 1599.8h3.67v3.67h-3.67zM1241.78 1629.18h3.67v3.67h-3.67zM1252.8 1603.47h3.67v7.34h-3.67zM1252.8 1621.83h3.67v7.34h-3.67zM1256.47 1610.82h3.67v3.67h-3.67zM1256.47 1618.16h3.67v3.67h-3.67zM1293.17 1610.82h3.67v3.67h-3.67zM1293.17 1618.16h3.67v3.67h-3.67zM1296.84 1603.47h3.67v7.34h-3.67zM1296.84 1621.83h3.67v7.34h-3.67zM1307.86 1599.8h3.67v3.67h-3.67zM1307.86 1629.18h3.67v3.67h-3.67zM1318.87 1603.47h3.67v7.34h-3.67zM1318.87 1621.83h3.67v7.34h-3.67zM1322.54 1610.82h3.67v3.67h-3.67zM1322.54 1618.16h3.67v3.67h-3.67zM1355.58 1610.82h3.67v3.67h-3.67zM1355.58 1618.16h3.67v3.67h-3.67zM1359.25 1603.47h3.67v7.34h-3.67zM1359.25 1621.83h3.67v7.34h-3.67zM1370.26 1599.8h3.67v3.67h-3.67zM1370.26 1629.18h3.67v3.67h-3.67zM1381.27 1603.47h3.67v7.34h-3.67zM1381.27 1621.83h3.67v7.34h-3.67zM1384.94 1610.82h3.67v3.67h-3.67zM1384.94 1618.16h3.67v3.67h-3.67zM1484.05 1610.82h3.67v3.67h-3.67zM1484.05 1618.16h3.67v3.67h-3.67zM1487.72 1603.47h3.67v7.34h-3.67zM1487.72 1621.83h3.67v7.34h-3.67zM1498.73 1599.8h3.67v3.67h-3.67zM1498.73 1629.18h3.67v3.67h-3.67zM1509.75 1603.47h3.67v7.34h-3.67zM1509.75 1621.83h3.67v7.34h-3.67zM1513.42 1610.82h3.67v3.67h-3.67zM1513.42 1618.16h3.67v3.67h-3.67zM1590.5 307.15h183.53v3.67h-183.53zM1663.91 303.48h3.67v3.67h-3.67zM1663.91 310.82h3.67v3.67h-3.67zM1667.59 299.8h3.67v3.67h-3.67zM1667.59 314.49h3.67v3.67h-3.67zM1667.59 296.13h7.34v3.67h-7.34zM1667.59 318.17h7.34v3.67h-7.34zM1674.93 292.46h11.01v3.67h-11.01zM1674.93 321.84h11.01v3.67h-11.01zM1685.94 296.13h7.34v3.67h-7.34zM1685.94 318.17h7.34v3.67h-7.34zM1689.61 299.8h3.67v3.67h-3.67zM1689.61 314.49h3.67v3.67h-3.67zM1693.28 303.48h3.67v3.67h-3.67zM1693.28 310.82h3.67v3.67h-3.67zM2122.75 1610.82h3.67v3.67h-3.67zM2122.75 1618.16h3.67v3.67h-3.67zM2126.42 1603.47h3.67v7.34h-3.67zM2126.42 1621.83h3.67v7.34h-3.67zM2137.43 1629.18h3.67v3.67h-3.67zM2148.45 1603.47h3.67v7.34h-3.67zM2148.45 1621.83h3.67v7.34h-3.67zM2152.12 1610.82h3.67v3.67h-3.67zM2152.12 1618.16h3.67v3.67h-3.67z"/>
<path class="tri" fill="#00ff00" d="M210.32 112.52h3.67v3.67h-3.67zM213.99 108.84h3.67v3.67h-3.67zM213.99 116.19h3.67v3.67h-3.67zM217.66 101.5h3.67v7.34h-3.67zM217.66 119.86h3.67v7.34h-3.67zM221.33 97.83h3.67v3.67h-3.67zM221.33 112.52h3.67v3.67h-3.67zM221.33 127.21h3.67v3.67h-3.67zM221.33 222.69h3.67v3.67h-3.67zM225 94.16h3.67v3.67h-3.67zM228.67 97.83h3.67v3.67h-3.67zM228.67 127.21h3.67v3.67h-3.67zM228.67 145.57h3.67v33.05h-3.67zM228.67 211.67h3.67v7.34h-3.67zM228.67 230.03h3.67v7.34h-3.67zM232.34 105.17h3.67v3.67h-3.67zM232.34 119.86h3.67v7.34h-3.67zM232.34 178.62h3.67v25.71h-3.67zM232.34 391.61h3.67v3.67h-3.67zM232.34 204.32h7.34v3.67h-7.34zM232.34 208h11.01v3.67h-11.01zM232.34 237.38h11.01v3.67h-11.01zM236.01 108.84h3.67v3.67h-3.67zM236.01 116.19h3.67v3.67h-3.67zM236.01 211.67h3.67v25.71h-3.67zM236.01 241.05h3.67v11.02h-3.67zM236.01 387.94h3.67v3.67h-3.67zM236.01 395.28h3.67v3.67h-3.67zM239.68 112.52h3.67v3.67h-3.67zM239.68 252.06h3.67v58.76h-3.67zM239.68 380.59h3.67v7.34h-3.67zM239.68 398.96h3.67v7.34h-3.67zM243.35 211.67h3.67v7.34h-3.67zM243.35 230.03h3.67v7.34h-3.67zM243.35 310.82h3.67v55.08h-3.67zM243.35 376.92h11.01v3.67h-11.01zM243.35 406.3h11.01v3.67h-11.01zM247.02 219.01h3.67v3.67h-3.67zM247.02 226.36h3.67v3.67h-3.67zM247.02 365.91h3.67v11.02h-3.67zM247.02 380.59h3.67v25.71h-3.67zM247.02 409.97h3.67v36.72h-3.67zM247.02 813.93h3.67v3.67h-3.67zM250.69 222.69h3.67v3.67h-3.67zM250.69 446.7h3.67v106.5h-3.67zM250.69 810.25h3.67v3.67h-3.67zM250.69 817.6h3.67v3.67h-3.67zM254.37 380.59h3.67v7.34h-3.67zM254.37 398.96h3.67v7.34h-3.67zM254.37 553.19h3.67v102.82h-3.67zM254.37 802.91h3.67v7.34h-3.67zM254.37 821.27h3.67v7.34h-3.67zM258.04 387.94h3.67v3.67h-3.67zM258.04 395.28h3.67v3.67h-3.67zM258.04 656.02h3.67v106.5h-3.67zM258.04 799.24h11.01v3.67h-11.01zM258.04 828.62h11.01v3.67h-11.01zM261.71 391.61h3.67v3.67h-3.67zM261.71 762.51h3.67v36.72h-3.67zM261.71 802.91h3.67v25.71h-3.67zM261.71 832.29h3.67v29.38h-3.67zM265.38 861.67h3.67v88.14h-3.67zM269.05 802.91h3.67v7.34h-3.67zM269.05 821.27h3.67v7.34h-3.67zM269.05 949.8h3.67v88.14h-3.67zM272.72 810.25h3.67v3.67h-3.67zM272.72 817.6h3.67v3.67h-3.67zM272.72 1037.94h3.67v88.14h-3.67zM272.72 1430.87h3.67v3.67h-3.67zM276.39 813.93h3.67v3.67h-3.67zM276.39 1126.07h3.67v88.14h-3.67zM276.39 1427.2h3.67v3.67h-3.67zM276.39 1434.54h3.67v3.67h-3.67zM280.06 1214.21h3.67v88.14h-3.67zM280.06 1419.86h3.67v7.34h-3.67zM280.06 1438.22h3.67v7.34h-3.67zM283.73 1302.34h3.67v88.14h-3.67zM283.73 1563.08h3.67v3.67h-3.67zM283.73 1416.18h11.01v3.67h-11.01zM283.73 1445.56h11.01v3.67h-11.01zM287.4 1390.48h3.67v25.71h-3.67zM287.4 1419.86h3.67v25.71h-3.67zM287.4 1449.23h3.67v7.34h-3.67zM287.4 1559.4h3.67v3.67h-3.67zM287.4 1566.75h3.67v3.67h-3.67zM291.07 1456.58h3.67v44.07h-3.67zM291.07 1552.06h3.67v7.34h-3.67zM291.07 1570.42h3.67v7.34h-3.67zM294.74 1419.86h3.67v7.34h-3.67zM294.74 1438.22h3.67v7.34h-3.67zM294.74 1500.65h3.67v44.07h-3.67zM294.74 1577.76h3.67v3.67h-3.67zM294.74 1548.39h11.01v3.67h-11.01zM298.41 1427.2h3.67v3.67h-3.67zM298.41 1434.54h3.67v3.67h-3.67zM298.41 1544.71h3.67v3.67h-3.67zM298.41 1552.06h3.67v18.36h-3.67zM298.41 1581.44h3.67v3.67h-3.67zM302.08 1430.87h3.67v3.67h-3.67zM302.08 1570.42h7.34v11.02h-7.34zM305.76 1552.06h3.67v7.34h-3.67zM305.76 1581.44h3.67v3.67h-3.67zM309.43 1559.4h3.67v3.67h-3.67zM309.43 1566.75h3.67v3.67h-3.67zM309.43 1585.11h3.67v7.34h-3.67zM313.1 1563.08h3.67v3.67h-3.67zM313.1 1592.45h3.67v7.34h-3.67zM313.1 1610.82h3.67v3.67h-3.67zM313.1 1618.16h3.67v3.67h-3.67zM316.77 1603.47h3.67v3.67h-3.67zM316.77 1621.83h3.67v7.34h-3.67zM316.77 1599.8h7.34v3.67h-7.34zM316.77 1607.14h7.34v3.67h-7.34zM320.44 1610.82h3.67v3.67h-3.67zM320.44 1629.18h3.67v3.67h-3.67zM324.11 1596.13h3.67v3.67h-3.67zM324.11 1632.85h3.67v3.67h-3.67zM327.78 1599.8h3.67v3.67h-3.67zM327.78 1629.18h3.67v3.67h-3.67zM331.45 1603.47h3.67v7.34h-3.67zM331.45 1621.83h3.67v7.34h-3.67zM335.12 1610.82h7.34v3.67h-7.34zM335.12 1618.16h7.34v3.67h-7.34zM342.46 1603.47h3.67v7.34h-3.67zM342.46 1621.83h3.67v7.34h-3.67zM346.13 1599.8h3.67v3.67h-3.67zM346.13 1629.18h3.67v3.67h-3.67zM349.8 1596.13h3.67v3.67h-3.67zM349.8 1632.85h3.67v3.67h-3.67zM353.47 1599.8h3.67v3.67h-3.67zM353.47 1629.18h3.67v3.67h-3.67zM357.15 1603.47h3.67v7.34h-3.67zM357.15 1621.83h3.67v7.34h-3.67zM360.82 1610.82h3.67v3.67h-3.67zM360.82 1618.16h3.67v3.67h-3.67zM404.86 1610.82h3.67v3.67h-3.67zM404.86 1618.16h3.67v3.67h-3.67zM408.53 1603.47h3.67v7.34h-3.67zM408.53 1621.83h3.67v7.34h-3.67zM412.21 1599.8h3.67v3.67h-3.67zM412.21 1629.18h3.67v3.67h-3.67zM415.88 1596.13h3.67v3.67h-3.67zM415.88 1632.85h3.67v3.67h-3.67zM419.55 1599.8h3.67v3.67h-3.67zM419.55 1629.18h3.67v3.67h-3.67zM423.22 1603.47h3.67v7.34h-3.67zM423.22 1621.83h3.67v7.34h-3.67zM426.89 1610.82h3.67v3.67h-3.67zM426.89 1618.16h3.67v3.67h-3.67zM467.27 1610.82h3.67v3.67h-3.67zM467.27 1618.16h3.67v3.67h-3.67zM470.94 1603.47h3.67v7.34h-3.67zM470.94 1621.83h3.67v7.34h-3.67zM474.61 1599.8h3.67v3.67h-3.67zM474.61 1629.18h3.67v3.67h-3.67zM478.28 1596.13h3.67v3.67h-3.67zM478.28 1632.85h3.67v3.67h-3.67zM481.95 1599.8h3.67v3.67h-3.67zM481.95 1629.18h3.67v3.67h-3.67zM485.62 1603.47h3.67v7.34h-3.67zM485.62 1621.83h3.67v7.34h-3.67zM489.29 1610.82h3.67v3.67h-3.67zM489.29 1618.16h3.67v3.67h-3.67zM595.74 1610.82h3.67v3.67h-3.67zM595.74 1618.16h3.67v3.67h-3.67zM599.41 1603.47h3.67v7.34h-3.67zM599.41 1621.83h3.67v7.34h-3.67zM603.08 1599.8h3.67v3.67h-3.67zM603.08 1629.18h3.67v3.67h-3.67zM606.75 1596.13h3.67v3.67h-3.67zM606.75 1632.85h3.67v3.67h-3.67zM610.42 1599.8h3.67v3.67h-3.67zM610.42 1629.18h3.67v3.67h-3.67zM614.09 1603.47h3.67v7.34h-3.67zM614.09 1621.83h3.67v7.34h-3.67zM617.76 1610.82h3.67v3.67h-3.67zM617.76 1618.16h3.67v3.67h-3.67zM849.02 1610.82h3.67v3.67h-3.67zM849.02 1618.16h3.67v3.67h-3.67zM852.69 1603.47h3.67v7.34h-3.67zM852.69 1621.83h3.67v7.34h-3.67zM856.36 1599.8h3.67v3.67h-3.67zM856.36 1629.18h3.67v3.67h-3.67zM860.03 1596.13h3.67v3.67h-3.67zM860.03 1632.85h3.67v3.67h-3.67zM863.7 1599.8h3.67v3.67h-3.67zM863.7 1629.18h3.67v3.67h-3.67zM867.37 1603.47h3.67v7.34h-3.67zM867.37 1621.83h3.67v7.34h-3.67zM871.04 1610.82h3.67v3.67h-3.67zM871.04 1618.16h3.67v3.67h-3.67zM1230.77 1610.82h3.67v3.67h-3.67zM1230.77 1618.16h3.67v3.67h-3.67zM1234.44 1603.47h3.67v7.34h-3.67zM1234.44 1621.83h3.67v7.34h-3.67zM1238.11 1599.8h3.67v3.67h-3.67zM1238.11 1629.18h3.67v3.67h-3.67zM1241.78 1596.13h3.67v3.67h-3.67zM1241.78 1632.85h3.67v3.67h-3.67zM1245.45 1599.8h3.67v3.67h-3.67zM1245.45 1629.18h3.67v3.67h-3.67zM1249.13 1603.47h3.67v7.34h-3.67zM1249.13 1621.83h3.67v7.34h-3.67zM1252.8 1610.82h3.67v3.67h-3.67zM1252.8 1618.16h3.67v3.67h-3.67zM1296.84 1610.82h3.67v3.67h-3.67zM1296.84 1618.16h3.67v3.67h-3.67zM1300.52 1603.47h3.67v7.34h-3.67zM1300.52 1621.83h3.67v7.34h-3.67zM1304.19 1599.8h3.67v3.67h-3.67zM1304.19 1629.18h3.67v3.67h-3.67zM1307.86 1596.13h3.67v3.67h-3.67zM1307.86 1632.85h3.67v3.67h-3.67zM1311.53 1599.8h3.67v3.67h-3.67zM1311.53 1629.18h3.67v3.67h-3.67zM1315.2 1603.47h3.67v7.34h-3.67zM1315.2 1621.83h3.67v7.34h-3.67zM1318.87 1610.82h3.67v3.67h-3.67zM1318.87 1618.16h3.67v3.67h-3.67zM1359.25 1610.82h3.67v3.67h-3.67zM1359.25 1618.16h3.67v3.67h-3.67zM1362.92 1603.47h3.67v7.34h-3.67zM1362.92 1621.83h3.67v7.34h-3.67zM1366.59 1599.8h3.67v3.67h-3.67zM1366.59 1629.18h3.67v3.67h-3.67zM1370.26 1596.13h3.67v3.67h-3.67zM1370.26 1632.85h3.67v3.67h-3.67zM1373.93 1599.8h3.67v3.67h-3.67zM1373.93 1629.18h3.67v3.67h-3.67zM1377.6 1603.47h3.67v7.34h-3.67zM1377.6 1621.83h3.67v7.34h-3.67zM1381.27 1610.82h3.67v3.67h-3.67zM1381.27 1618.16h3.67v3.67h-3.67zM1487.72 1610.82h3.67v3.67h-3.67zM1487.72 1618.16h3.67v3.67h-3.67zM1491.39 1603.47h3.67v7.34h-3.67zM1491.39 1621.83h3.67v7.34h-3.67zM1495.06 1599.8h3.67v3.67h-3.67zM1495.06 1629.18h3.67v3.67h-3.67zM1498.73 1596.13h3.67v3.67h-3.67zM1498.73 1632.85h3.67v3.67h-3.67zM1502.4 1599.8h3.67v3.67h-3.67zM1502.4 1629.18h3.67v3.67h-3.67zM1506.07 1603.47h3.67v7.34h-3.67zM1506.07 1621.83h3.67v7.34h-3.67zM1509.75 1610.82h3.67v3.67h-3.67zM1509.75 1618.16h3.67v3.67h-3.67zM1590.5 384.27h183.53v3.67h-183.53zM1667.59 380.59h3.67v3.67h-3.67zM1667.59 387.94h3.67v3.67h-3.67zM1671.26 373.25h3.67v7.34h-3.67zM1671.26 391.61h3.67v7.34h-3.67zM1674.93 369.58h3.67v3.67h-3.67zM1674.93 398.96h3.67v3.67h-3.67zM1678.6 365.91h3.67v3.67h-3.67zM1678.6 402.63h3.67v3.67h-3.67zM1682.27 369.58h3.67v3.67h-3.67zM1682.27 398.96h3.67v3.67h-3.67zM1685.94 373.25h3.67v7.34h-3.67zM1685.94 391.61h3.67v7.34h-3.67zM1689.61 380.59h3.67v3.67h-3.67zM1689.61 387.94h3.67v3.67h-3.67zM2126.42 1610.82h3.67v3.67h-3.67zM2126.42 1618.16h3.67v3.67h-3.67zM2130.09 1603.47h3.67v7.34h-3.67zM2130.09 1621.83h3.67v7.34h-3.67zM2133.76 1599.8h3.67v3.67h-3.67zM2133.76 1629.18h3.67v3.67h-3.67zM2137.43 1632.85h3.67v3.67h-3.67zM2141.11 1599.8h3.67v3.67h-3.67zM2141.11 1629.18h3.67v3.67h-3.67zM2144.78 1603.47h3.67v7.34h-3.67zM2144.78 1621.83h3.67v7.34h-3.67zM2148.45 1610.82h3.67v3.67h-3.67zM2148.45 1618.16h3.67v3.67h-3.67zM2152.12 1614.49h3.67v3.67h-3.67z"/>
<path class="axes" fill="#000000" d="M225 108.84h3.67v146.89h-3.67zM225 259.41h3.67v146.89h-3.67zM225 409.97h3.67v146.89h-3.67zM225 560.54h3.67v146.89h-3.67zM225 711.1h3.67v146.89h-3.67zM225 861.67h3.67v146.89h-3.67zM225 1012.23h3.67v146.89h-3.67zM225 1162.79h3.67v146.89h-3.67zM225 1313.36h3.67v146.89h-3.67zM225 1463.92h3.67v150.56h-3.67zM225 105.17h7.34v3.67h-7.34zM225 255.74h14.68v3.67h-14.68zM225 406.3h18.35v3.67h-18.35zM225 556.87h22.02v3.67h-22.02zM225 707.43h22.02v3.67h-22.02zM225 857.99h22.02v3.67h-22.02zM225 1008.56h22.02v3.67h-22.02zM225 1159.12h22.02v3.67h-22.02zM225 1309.69h22.02v3.67h-22.02zM225 1460.25h22.02v3.67h-22.02zM225 101.5h1916.11v3.67h-1916.11zM225 1614.49h1916.11v3.67h-1916.11zM239.68 105.17h7.34v3.67h-7.34zM860.03 105.17h3.67v22.03h-3.67zM860.03 1592.45h3.67v3.67h-3.67zM860.03 1603.47h3.67v11.02h-3.67zM1498.73 105.17h3.67v22.03h-3.67zM1498.73 1592.45h3.67v3.67h-3.67zM1557.46 112.52h3.67v323.16h-3.67zM1557.46 108.84h576.3v3.67h-576.3zM1557.46 435.68h576.3v3.67h-576.3zM2115.41 105.17h25.69v3.67h-25.69zM2115.41 556.87h25.69v3.67h-25.69zM2115.41 707.43h25.69v3.67h-25.69zM2115.41 857.99h25.69v3.67h-25.69zM2115.41 1008.56h25.69v3.67h-25.69zM2115.41 1159.12h25.69v3.67h-25.69zM2115.41 1309.69h25.69v3.67h-25.69zM2115.41 1460.25h25.69v3.67h-25.69zM2130.09 112.52h3.67v143.22h-3.67zM2130.09 259.41h3.67v146.89h-3.67zM2130.09 409.97h3.67v25.71h-3.67zM2130.09 255.74h11.01v3.67h-11.01zM2130.09 406.3h11.01v3.67h-11.01zM2137.43 108.84h3.67v146.89h-3.67zM2137.43 259.41h3.67v146.89h-3.67zM2137.43 409.97h3.67v146.89h-3.67zM2137.43 560.54h3.67v146.89h-3.67zM2137.43 711.1h3.67v146.89h-3.67zM2137.43 861.67h3.67v146.89h-3.67zM2137.43 1012.23h3.67v146.89h-3.67zM2137.43 1162.79h3.67v146.89h-3.67zM2137.43 1313.36h3.67v146.89h-3.67zM2137.43 1463.92h3.67v150.56h-3.67z"/>
<g font-family="'Liberation Sans', Arial, Helvetica, sans-serif" font-size="66.6" fill="#000" stroke="#fff" stroke-width="2" stroke-linejoin="round">
<text transform="translate(910.79 65.33) scale(0.93 1)" letter-spacing="-2.12">Success rate (0.5°/s)</text>
<text transform="translate(1034.07 1761.93) scale(0.93 1)" letter-spacing="-2.13">Noise level</text>
<text transform="translate(72.28 1025.73) rotate(-90) scale(0.93 1)" letter-spacing="-1.92">Rate (100%)</text>
<text transform="translate(1786.23 179.17) scale(0.93 1)" letter-spacing="-1.46">FSI</text>
<text transform="translate(1786.23 256.29) scale(0.93 1)" letter-spacing="-0.75">MPA</text>
<text transform="translate(1786.23 337.08) scale(0.93 1)" letter-spacing="-2.94">Match group</text>
<text transform="translate(1786.28 414.2) scale(0.93 1)" letter-spacing="-2.1">Triangle</text>
<text transform="translate(109.74 127.76) scale(0.915 1)" font-size="62.6" letter-spacing="0.26">100</text>
<text transform="translate(140.93 278.32) scale(0.915 1)" font-size="62.6" letter-spacing="1.42">90</text>
<text transform="translate(140.93 428.88) scale(0.915 1)" font-size="62.6" letter-spacing="1.42">80</text>
<text transform="translate(140.93 579.45) scale(0.915 1)" font-size="62.6" letter-spacing="1.42">70</text>
<text transform="translate(140.93 730.01) scale(0.915 1)" font-size="62.6" letter-spacing="1.42">60</text>
<text transform="translate(140.93 880.58) scale(0.915 1)" font-size="62.6" letter-spacing="1.42">50</text>
<text transform="translate(141.85 1031.14) scale(0.915 1)" font-size="62.6" letter-spacing="0.42">40</text>
<text transform="translate(140.93 1181.71) scale(0.915 1)" font-size="62.6" letter-spacing="1.42">30</text>
<text transform="translate(140.93 1332.27) scale(0.915 1)" font-size="62.6" letter-spacing="1.42">20</text>
<text transform="translate(142.78 1482.83) scale(0.915 1)" font-size="62.6" letter-spacing="-0.59">10</text>
<text transform="translate(173.93 1637.07) scale(0.89 1)" font-size="62.6">0</text>
<text transform="translate(210.63 1684.81) scale(0.89 1)" font-size="62.6">0</text>
<text transform="translate(812.67 1684.81) scale(0.915 1)" font-size="62.6" letter-spacing="1.73">500</text>
<text transform="translate(1434.86 1684.81) scale(0.915 1)" font-size="62.6" letter-spacing="0.54">1000</text>
<text transform="translate(2073.56 1684.81) scale(0.915 1)" font-size="62.6" letter-spacing="0.54">1500</text>
</g>
</svg>
</body>
</html>
